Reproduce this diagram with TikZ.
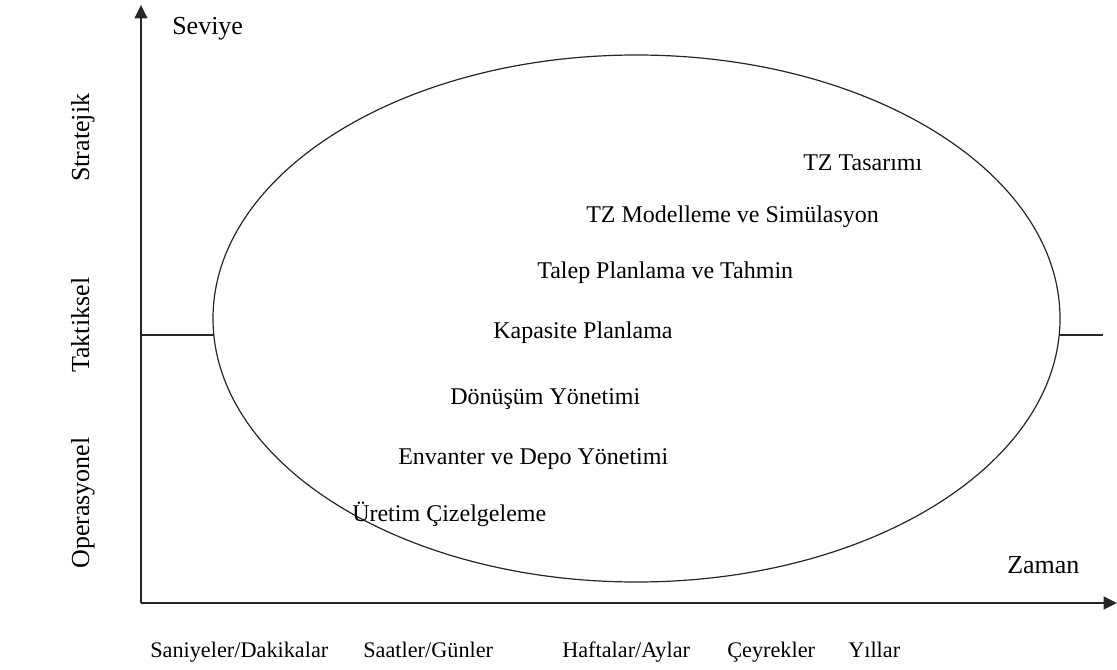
\documentclass[tikz,border=0pt]{standalone}
\usepackage{fontspec}
\setmainfont{Liberation Serif}
\usetikzlibrary{arrows.meta,shapes.geometric}
\begin{document}
\begin{tikzpicture}[x=0.75pt,y=-0.75pt,
  axis/.style={line width=1.4pt,draw=black!85,-{Triangle[length=10pt,width=9.5pt]}},
  thin line/.style={line width=0.9pt,draw=black!85},
  axislabel/.style={font=\fontsize{19.5}{23}\selectfont,inner sep=0pt,anchor=base west},
  levellabel/.style={font=\fontsize{19.5}{23}\selectfont,inner sep=0pt,rotate=90,anchor=base west},
  timelabel/.style={font=\fontsize{16.7}{20}\selectfont,inner sep=0pt,anchor=base west},
  task/.style={font=\fontsize{18}{22}\selectfont,inner sep=0pt,anchor=base west}]
  \useasboundingbox (0,0) rectangle (1117,670);

  % axes
  \coordinate (origin) at (141,603);
  \coordinate (ytip) at (141,5);
  \coordinate (xtip) at (1117,603);
  \draw[axis] (origin) -- (ytip);
  \draw[axis] (origin) -- (xtip);

  % divider between tactical and operational levels
  \coordinate (divL) at (141,335);
  \coordinate (divR) at (1103,335);
  \draw[thin line] (divL) -- (divR);

  % the planning ellipse
  \node[ellipse,thin line,fill=white,inner sep=0pt,
        minimum width=635.25pt,minimum height=395.25pt] (scope) at (636.5,318.5) {};

  % axis names
  \node[axislabel] (seviye) at (172,35) {Seviye};
  \node[axislabel] (zaman) at (1007,573) {Zaman};

  % levels
  \node[levellabel] (strat) at (89,182) {Stratejik};
  \node[levellabel] (takt) at (89,373) {Taktiksel};
  \node[levellabel] (oper) at (89,569) {Operasyonel};

  % time scales
  \node[timelabel] (t1) at (150,657) {Saniyeler/Dakikalar};
  \node[timelabel] (t2) at (363,657) {Saatler/Günler};
  \node[timelabel] (t3) at (562,657) {Haftalar/Aylar};
  \node[timelabel] (t4) at (727,657) {Çeyrekler};
  \node[timelabel] (t5) at (848,657) {Yıllar};

  % planning tasks
  \node[task] (a1) at (803,171) {TZ Tasarımı};
  \node[task] (a2) at (586,223) {TZ Modelleme ve Simülasyon};
  \node[task] (a3) at (537,279) {Talep Planlama ve Tahmin};
  \node[task] (a4) at (493,338) {Kapasite Planlama};
  \node[task] (a5) at (450,404) {Dönüşüm Yönetimi};
  \node[task] (a6) at (398,464) {Envanter ve Depo Yönetimi};
  \node[task] (a7) at (352,521) {Üretim Çizelgeleme};
\end{tikzpicture}
\end{document}
